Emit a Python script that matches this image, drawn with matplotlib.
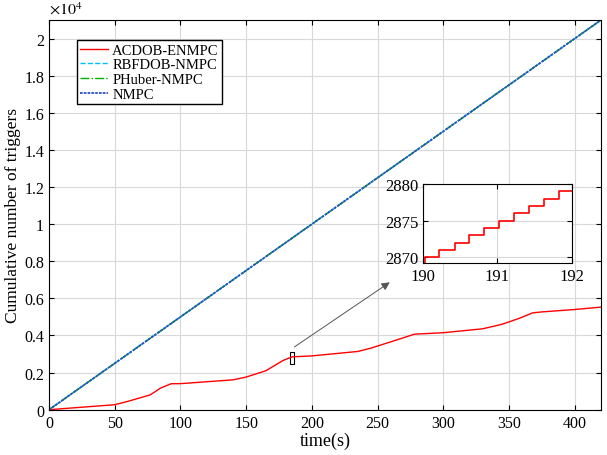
import matplotlib.pyplot as plt
import numpy as np
from matplotlib.ticker import FuncFormatter

plt.rcParams['font.family'] = ['Liberation Serif', 'DejaVu Serif']
plt.rcParams['mathtext.fontset'] = 'stix'

# main curves
t_lin = [0, 420]
n_lin = [0, 21000]

t_ac = [0, 50, 60, 77, 85, 93, 100, 140, 150, 165, 178, 185, 200, 235, 245,
        265, 278, 300, 330, 345, 358, 368, 375, 400, 420]
n_ac = [0, 270, 450, 800, 1170, 1400, 1405, 1610, 1760, 2100, 2650, 2850,
        2900, 3140, 3320, 3770, 4070, 4150, 4360, 4610, 4930, 5220, 5270,
        5400, 5530]

# zoomed detail 190-192 s
t_zoom = [190.0, 190.02, 190.22, 190.43, 190.62, 190.82, 191.02, 191.22,
          191.42, 191.62, 191.83, 192.0]
n_zoom = [2869, 2870, 2871, 2872, 2873, 2874, 2875, 2876, 2877, 2878, 2879, 2879]

fig = plt.figure(figsize=(6.07, 4.56), dpi=100)
ax = fig.add_axes([49 / 607, 0.0993, 552 / 607, 0.8546])

ax.plot(t_ac, n_ac, color='red', lw=1, label='ACDOB-ENMPC')
ax.plot(t_lin, n_lin, color='#00bfff', ls='--', lw=1, label='RBFDOB-NMPC')
ax.plot(t_lin, n_lin, color='#00b000', ls='-.', lw=1, label='PHuber-NMPC')
ax.plot(t_lin, n_lin, color='#2a50c8', ls=(0, (1.5, 0.6)), lw=1.3, label='NMPC')

ax.set_xlim(0, 420)
ax.set_ylim(0, 21000)
ax.set_xticks(np.arange(0, 401, 50))
ax.set_yticks(np.arange(0, 20001, 2000))
ax.yaxis.set_major_formatter(FuncFormatter(lambda v, p: '%g' % (v / 1e4)))
ax.tick_params(direction='in', top=True, right=True, labelsize=11.5)
ax.grid(True, color='#d8d8d8', lw=0.8)
ax.set_xlabel('time(s)', fontsize=13, labelpad=1)
ax.set_ylabel('Cumulative number of triggers', fontsize=12.5, labelpad=2)
fig.text(49 / 607, 1 - 15 / 456, r'$\times10^4$', fontsize=11.5, ha='left', va='baseline')

leg = ax.legend(loc='upper left', bbox_to_anchor=(0.05, 0.949), fontsize=10.5,
                fancybox=False, framealpha=1, handlelength=1.9,
                borderpad=0.25, labelspacing=0.1, handletextpad=0.3,
                borderaxespad=0)
leg.get_frame().set_edgecolor('black')

# small box and arrow
ax.add_patch(plt.Rectangle((183, 2460), 3.5, 640, fill=False, ec='black', lw=0.8))
ax.annotate('', xy=(261, 6950), xytext=(185, 3300),
            arrowprops=dict(arrowstyle='-|>', color='#555555', lw=0.7,
                            mutation_scale=12))

# inset
ins = fig.add_axes([0.697, 0.421, 0.245, 0.173])
ins.step(t_zoom, n_zoom, where='post', color='red', lw=1.2)
ins.set_xlim(190, 192)
ins.set_ylim(2869.2, 2880)
ins.set_xticks([190, 191, 192])
ins.set_yticks([2870, 2875, 2880])
ins.tick_params(direction='in', top=True, right=True, labelsize=12)
ins.grid(True, color='#d8d8d8', lw=0.8)

fig.savefig('out.png', dpi=100)
